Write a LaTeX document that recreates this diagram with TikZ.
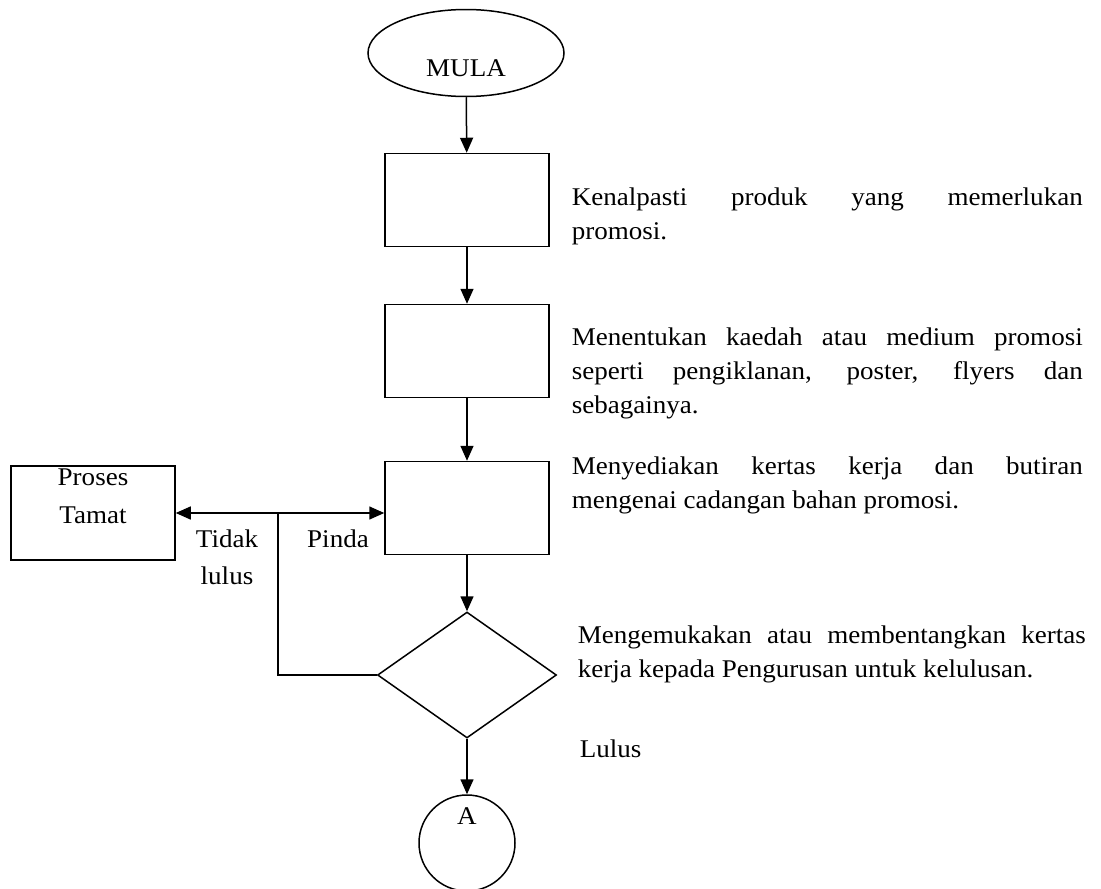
\documentclass[tikz,border=0pt]{standalone}
\usepackage{fontspec}
\setmainfont{Liberation Serif}[FakeStretch=1.06]
\usepackage{tikz}
\usetikzlibrary{shapes,arrows,positioning,calc,arrows.meta}
\hyphenpenalty=10000
\tolerance=10000

\begin{document}
\begin{tikzpicture}[x=1pt,y=-1pt,line width=1.5pt,
    txt/.style={font=\fontsize{25.5}{34}\selectfont, inner sep=0pt},
    para/.style={txt, anchor=base west, text width=#1, align=justify},
    box/.style={draw, rectangle, minimum width=164pt, minimum height=93pt},
    arr/.style={-{Triangle[length=15pt,width=13pt]}}]
    \useasboundingbox (0,0) rectangle (1101,889);

    % Mula
    \node[draw, ellipse, minimum width=196pt, minimum height=87pt] (mula) at (466,53) {};
    \node[txt, anchor=base] (mulatxt) at (466,76) {MULA};

    % Steps
    \node[box] (box1) at (467,200) {};
    \node[box] (box2) at (467,351) {};
    \node[box] (box3) at (467,508) {};
    \node[draw, diamond, minimum width=179pt, minimum height=126pt, inner sep=0pt] (dec) at (467,675) {};
    \node[draw, circle, minimum size=96pt] (conA) at (467,843) {};
    \node[txt, anchor=base] (atxt) at (467,824) {A};

    % Proses Tamat
    \node[box, minimum height=94pt] (proses) at (93,513) {};
    \node[txt, anchor=base, text width=120pt, align=center, font=\fontsize{25.5}{38}\selectfont] (prosestxt) at (93,485) {Proses\\Tamat};

    % Descriptions
    \node[para=511pt] (desc1) at (571,205) {Kenalpasti produk yang memerlukan\linebreak promosi.};
    \node[para=511pt] (desc2) at (571,345) {Menentukan kaedah atau medium promosi\linebreak seperti pengiklanan, poster, flyers dan\linebreak sebagainya.};
    \node[para=511pt] (desc3) at (571,474) {Menyediakan kertas kerja dan butiran\linebreak mengenai cadangan bahan promosi.};
    \node[para=508pt] (desc4) at (577,643) {Mengemukakan atau membentangkan kertas\linebreak kerja kepada Pengurusan untuk kelulusan.};

    % Flow
    \draw[arr] (mula) -- (box1);
    \draw[arr] (box1) -- (box2);
    \draw[arr] (box2) -- (box3);
    \draw[arr] (box3) -- (dec);
    \draw[arr] (dec) -- (conA);

    % Tidak lulus / Pinda
    \coordinate (junc) at (278,513);
    \draw[arr] (junc) -- (junc -| proses.east);
    \draw[arr] (junc) -- (junc -| box3.west);
    \draw (dec.west) -| (junc);
    \node[txt, anchor=base, text width=80pt, align=center, font=\fontsize{25.5}{37}\selectfont] (tidak) at (227,547) {Tidak\\lulus};
    \node[txt, anchor=base] (pinda) at (338,547) {Pinda};
    \node[txt, anchor=base west] (lulus) at (579,757) {Lulus};
\end{tikzpicture}
\end{document}
